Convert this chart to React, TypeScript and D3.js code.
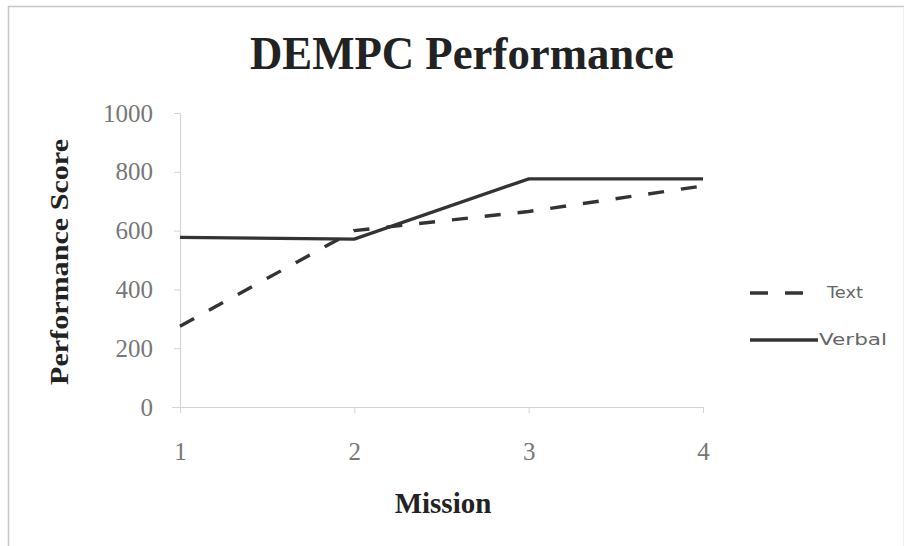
import { useEffect, useRef } from 'react'
import * as d3 from 'd3'

const missions = [1, 2, 3, 4]
const textScores = [275, 600, 665, 752]
const verbalScores = [577, 571, 776, 776]
const yTicks = [0, 200, 400, 600, 800, 1000]
const seriesNames = ['Text', 'Verbal']

const W = 904
const H = 546

export default function App() {
  const svgRef = useRef<SVGSVGElement>(null)

  useEffect(() => {
    if (!svgRef.current) return
    const svg = d3.select(svgRef.current)
    svg.selectAll('*').remove()

    const serif = '"Liberation Serif", "Times New Roman", serif'
    const sans = '"DejaVu Sans", Verdana, sans-serif'

    svg.append('rect').attr('width', W).attr('height', H).attr('fill', '#fff')
    // outer frame
    svg.append('rect')
      .attr('x', 8.5).attr('y', 6.5)
      .attr('width', W - 8).attr('height', H + 10)
      .attr('fill', 'none').attr('stroke', '#c8c8c8').attr('stroke-width', 1.5)

    const x = d3.scaleLinear().domain([1, 4]).range([180, 703])
    const y = d3.scaleLinear().domain([0, 1000]).range([407, 113])

    // title
    svg.append('text')
      .attr('x', 462).attr('y', 69)
      .attr('text-anchor', 'middle')
      .attr('font-family', serif).attr('font-weight', 'bold')
      .attr('font-size', 47)
      .attr('fill', '#222')
      .attr('textLength', 424).attr('lengthAdjust', 'spacingAndGlyphs')
      .text('DEMPC Performance')

    // y axis
    const yAxis = svg.append('g')
      .attr('transform', 'translate(180,0)')
      .call(d3.axisLeft(y).tickValues(yTicks).tickSize(6).tickPadding(21).tickFormat(d3.format('d')))
    yAxis.select('.domain').attr('stroke', '#d4d4d4').attr('stroke-width', 1.2)
    yAxis.selectAll('.tick line').attr('stroke', '#d4d4d4')
    yAxis.selectAll('.tick text')
      .attr('font-family', serif).attr('font-size', 25).attr('fill', '#777')

    // x axis
    const xAxis = svg.append('g')
      .attr('transform', `translate(0,${y(0)})`)
      .call(d3.axisBottom(x).tickValues(missions).tickSize(6).tickPadding(29).tickFormat(d3.format('d')))
    xAxis.select('.domain').attr('stroke', '#d4d4d4').attr('stroke-width', 1.2)
      .attr('d', `M172,0.5H${x(4)}`)
    xAxis.selectAll('.tick line').attr('stroke', '#d4d4d4')
    xAxis.selectAll('.tick text')
      .attr('font-family', serif).attr('font-size', 25).attr('fill', '#777')

    // axis titles
    svg.append('text')
      .attr('transform', `translate(68,${(y(0) + y(1000)) / 2 + 2}) rotate(-90)`)
      .attr('text-anchor', 'middle')
      .attr('font-family', serif).attr('font-weight', 'bold').attr('font-size', 25)
      .attr('fill', '#222')
      .attr('textLength', 246).attr('lengthAdjust', 'spacingAndGlyphs')
      .text('Performance Score')

    svg.append('text')
      .attr('x', 443).attr('y', 513)
      .attr('text-anchor', 'middle')
      .attr('font-family', serif).attr('font-weight', 'bold').attr('font-size', 29)
      .attr('fill', '#222')
      .text('Mission')

    const line = d3.line<number>()
      .x((_, i) => x(missions[i]))
      .y(d => y(d))

    svg.append('path')
      .datum(verbalScores)
      .attr('fill', 'none').attr('stroke', '#333').attr('stroke-width', 3.4)
      .attr('d', line)

    svg.append('path')
      .datum(textScores)
      .attr('fill', 'none').attr('stroke', '#333').attr('stroke-width', 3.4)
      .attr('stroke-dasharray', '16 17')
      .attr('d', line)

    // legend
    const legend = svg.append('g')
    const rows = [
      { name: seriesNames[0], y: 293, dash: '18 17', x2: 803, tx: 827, len: 36, base: 298 },
      { name: seriesNames[1], y: 340, dash: null, x2: 818, tx: 819, len: 68, base: 345 },
    ]
    rows.forEach(r => {
      legend.append('line')
        .attr('x1', 750).attr('x2', r.x2).attr('y1', r.y).attr('y2', r.y)
        .attr('stroke', '#333').attr('stroke-width', 3.4)
        .attr('stroke-dasharray', r.dash)
      legend.append('text')
        .attr('x', r.tx).attr('y', r.base)
        .attr('font-family', sans).attr('font-size', 16).attr('fill', '#666')
        .attr('textLength', r.len).attr('lengthAdjust', 'spacingAndGlyphs')
        .text(r.name)
    })
  }, [])

  return (
    <svg
      ref={svgRef}
      width={W}
      height={H}
      style={{ position: 'absolute', left: 0, top: 0 }}
    />
  )
}
